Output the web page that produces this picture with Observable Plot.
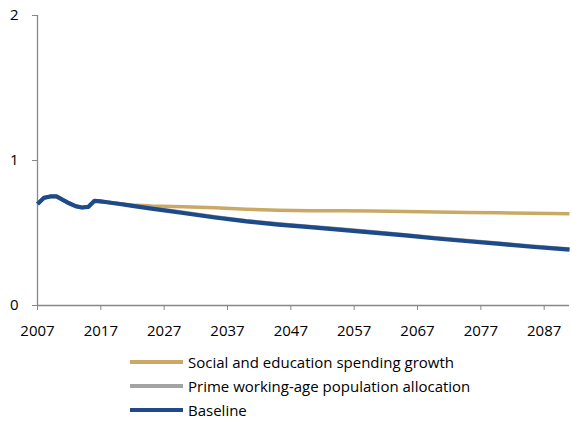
<!DOCTYPE html>
<html>
<head>
<meta charset="utf-8">
<script src="https://cdn.jsdelivr.net/npm/d3@7"></script>
<script src="https://cdn.jsdelivr.net/npm/@observablehq/plot@0.6"></script>
<style>
  html, body { margin: 0; padding: 0; background: #fff; }
  #chart svg { display: block; }
  .legend { position: relative; height: 76px; font-family: "Open Sans", sans-serif; font-size: 15px; color: #000; }
  .item { position: absolute; left: 130px; display: flex; align-items: center; height: 20px; white-space: nowrap; }
  .sw { width: 53px; height: 4px; margin-right: 5px; }
</style>
</head>
<body>
<div id="chart"></div>
<div class="legend" id="legend"></div>
<script>
const years = [2007, 2008, 2009, 2010, 2011, 2012, 2013, 2014, 2015, 2016, 2017, 2018, 2020, 2022, 2025, 2030, 2035, 2040, 2045, 2050, 2055, 2060, 2065, 2070, 2075, 2080, 2085, 2091];
const baseline  = [0.700, 0.742, 0.752, 0.752, 0.728, 0.705, 0.685, 0.676, 0.680, 0.722, 0.718, 0.712, 0.700, 0.687, 0.668, 0.638, 0.607, 0.580, 0.558, 0.540, 0.522, 0.503, 0.483, 0.462, 0.443, 0.425, 0.405, 0.385];
const primeAge  = [0.700, 0.742, 0.752, 0.752, 0.728, 0.705, 0.685, 0.676, 0.680, 0.722, 0.718, 0.712, 0.701, 0.690, 0.672, 0.643, 0.612, 0.585, 0.563, 0.545, 0.527, 0.508, 0.488, 0.467, 0.448, 0.430, 0.410, 0.390];
const socialEd  = [0.700, 0.742, 0.752, 0.752, 0.728, 0.705, 0.685, 0.676, 0.680, 0.722, 0.718, 0.712, 0.702, 0.693, 0.686, 0.681, 0.674, 0.664, 0.657, 0.654, 0.653, 0.652, 0.649, 0.645, 0.642, 0.639, 0.637, 0.633];
const seriesNames = ["Social and education spending growth", "Prime working-age population allocation", "Baseline"];
const seriesColors = ["#C9A964", "#A3A3A3", "#1F4A8A"];
const seriesWidths = [3.5, 3.5, 4.2];
const xTicks = [2007, 2017, 2027, 2037, 2047, 2057, 2067, 2077, 2087];
const yTicks = [0, 1, 2];

const seriesValues = [socialEd, primeAge, baseline];
const tables = seriesValues.map(vals => years.map((y, i) => ({year: y, value: vals[i]})));

const axisColor = "#888888";
const chart = Plot.plot({
  width: 572,
  height: 345,
  marginLeft: 37,
  marginRight: 3,
  marginTop: 15,
  marginBottom: 40,
  style: {fontFamily: "Open Sans, sans-serif", fontSize: "15px", color: "#000", background: "#fff"},
  x: {domain: [2007, 2091]},
  y: {domain: [0, 2]},
  marks: [
    Plot.axisY(yTicks, {tickSize: 5, tickPadding: 14, stroke: axisColor, fill: "#000", fontSize: 15, tickFormat: d => String(d), label: null}),
    Plot.axisX(xTicks, {tickSize: 5, tickPadding: 15, stroke: axisColor, fill: "#000", fontSize: 15, tickFormat: d => String(d), label: null}),
    Plot.ruleX([2007], {y1: 0, y2: 2, stroke: axisColor, strokeWidth: 1.3}),
    Plot.ruleY([0], {x1: 2007, x2: 2091, stroke: axisColor, strokeWidth: 1.3}),
    ...tables.map((t, i) => Plot.line(t, {x: "year", y: "value", stroke: seriesColors[i], strokeWidth: seriesWidths[i], strokeLinejoin: "round", strokeLinecap: "butt"}))
  ]
});
document.getElementById("chart").appendChild(chart);

const legend = document.getElementById("legend");
const tops = [17, 41, 65];
seriesNames.forEach((name, i) => {
  const item = document.createElement("div");
  item.className = "item";
  item.style.top = (tops[i] - 10) + "px";
  const sw = document.createElement("span");
  sw.className = "sw";
  sw.style.background = seriesColors[i];
  const tx = document.createElement("span");
  tx.textContent = name;
  item.appendChild(sw);
  item.appendChild(tx);
  legend.appendChild(item);
});
</script>
</body>
</html>
